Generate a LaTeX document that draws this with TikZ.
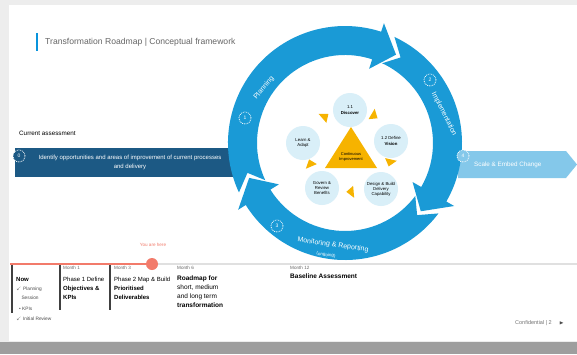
\documentclass[tikz,border=0pt]{standalone}
\usepackage{amssymb}
\usepackage{fontspec}
\setmainfont{Liberation Sans}
\usetikzlibrary{positioning}

\definecolor{cycleblue}{HTML}{1A9AD6}
\definecolor{darkbanner}{HTML}{1C5984}
\definecolor{lightbanner}{HTML}{84C8EA}
\definecolor{bubble}{HTML}{D9EFF8}
\definecolor{goldtri}{HTML}{F6B300}
\definecolor{salmon}{HTML}{F27B6B}
\definecolor{slidegrey}{HTML}{EDEDED}

% one blue band of the cycle: start angle, head angle (pixel angles, clockwise)
\newcommand{\cyclearrow}[2]{%
  \fill[cycleblue] (#1:117) arc[start angle=#1, end angle=#2-12, radius=117]
    -- (#2-12:126) -- (#2:102) -- (#2-12:78) -- (#2-12:88)
    arc[start angle=#2-12, end angle=#1, radius=88] -- (#1+8:102) -- cycle;}

\tikzset{
  tinytext/.style={font=\fontsize{4.6}{5.5}\selectfont, align=left, inner sep=0pt},
  smalltext/.style={font=\fontsize{6.3}{7.5}\selectfont, align=left, inner sep=0pt},
  stagetext/.style={font=\fontsize{6}{9}\selectfont, align=left, inner sep=0pt, anchor=north west},
  bubblenode/.style={circle, fill=bubble, minimum size=34pt, inner sep=0pt,
    align=center, font=\fontsize{4.3}{5.1}\selectfont},
  stepicon/.style={circle, draw=white, densely dotted, thick, minimum size=12pt,
    inner sep=0pt, text=white, font=\fontsize{5}{6}\selectfont},
  arclabel/.style={text=white, font=\fontsize{7}{8}\selectfont, inner sep=0pt},
  colline/.style={draw=black!75, line width=1.2pt},
}

\begin{document}
\begin{tikzpicture}[x=1pt, y=-1pt]
    \useasboundingbox (0,0) rectangle (577,354);

    % Slide frame
    \fill[slidegrey] (0,0) rectangle (577,354);
    \fill[white] (9,5) rectangle (577,341);
    \fill[black!38] (0,342) rectangle (577,354);

    % Title
    \draw[cyan!80!blue, line width=1.6pt] (37,33) -- (37,51);
    \node[smalltext, text=black!60, anchor=west, font=\fontsize{8.6}{10}\selectfont] (title) at (45,42)
        {Transformation Roadmap | Conceptual framework};

    % Left banner
    \node[smalltext, anchor=west] (assess) at (19,133) {Current assessment};
    \fill[darkbanner] (15,148) rectangle (236,177);
    \node[stepicon, fill=darkbanner] (icon0) at (19,156) {0};
    \node[tinytext, text=white, align=center, font=\fontsize{6}{9}\selectfont]
        (banner0) at (130,162)
        {Identify opportunities and areas of improvement of current processes\\and delivery};

    % Right banner
    \fill[lightbanner] (458,151) -- (566,151) -- (577,164.5) -- (566,178) -- (458,178) -- cycle;

    % Cycle
    \begin{scope}[shift={(345,143)}]
        \cyclearrow{155}{300}
        \cyclearrow{295}{402}
        \cyclearrow{397}{520}
    \end{scope}

    \node[stepicon, fill=lightbanner] (icon4) at (463,156) {4};
    \node[smalltext, text=white, anchor=west] (banner4) at (474,165) {Scale \& Embed Change};

    % Labels on the cycle
    \node[stepicon] (icon1) at (245,118) {1};
    \node[arclabel, rotate=50] (plan) at (264,88) {Planning};
    \node[stepicon] (icon2) at (430,80) {2};
    \node[arclabel, rotate=-63] (impl) at (444,114) {Implementation};
    \node[stepicon] (icon3) at (277,226) {3};
    \node[arclabel, rotate=-8] (monitor) at (333,245) {Monitoring \& Reporting};
    \node[arclabel, rotate=-8, font=\fontsize{4.5}{5}\selectfont] (monsub) at (326,255) {(ongoing)};

    % Inner bubbles
    \fill[goldtri] (351,127) -- (377,168) -- (325,168) -- cycle;
    \node[tinytext, align=center, font=\fontsize{4}{4.8}\selectfont] (core) at (351,157)
        {Continuous\\Improvement};
    \node[bubblenode] (discover) at (350,110) {1.1\\\textbf{Discover}};
    \node[bubblenode] (define) at (391,141) {1.2 Define\\\textbf{Vision}};
    \node[bubblenode] (design) at (381,189) {Design \& Build\\Delivery\\Capability};
    \node[bubblenode] (govern) at (322,188) {Govern \&\\Review\\Benefits};
    \node[bubblenode] (learn) at (303,143) {Learn \&\\Adapt};

    % small arrows between bubbles
    \begin{scope}[shift={(350,150)}]
        \foreach \ang in {306,18,90,162,234}
            \fill[goldtri] (\ang+5:42) -- (\ang-5:36) -- (\ang-5:48) -- cycle;
    \end{scope}

    % Timeline
    \draw[black!12, line width=2pt] (10,264) -- (577,264);
    \draw[salmon, line width=2.4pt] (10,264) -- (152,264);
    \fill[salmon] (152,264) circle[radius=6];
    \node[tinytext, text=salmon] (here) at (153,245) {You are here};

    \draw[colline] (12,265) -- (12,313);
    \draw[colline] (60,265) -- (60,310);
    \draw[colline] (110,265) -- (110,310);

    \node[stagetext] (now) at (16,277) {\textbf{Now}};
    \node[stagetext, text=black!70, font=\fontsize{4.8}{8.5}\selectfont] (nowa) at (16,287) {$\checkmark$ Planning\\\ \ \ \ Session};
    \node[stagetext, text=black!70, font=\fontsize{4.8}{6}\selectfont] (nowb) at (19,307) {\textbullet\ KPIs};
    \node[stagetext, text=black!70, font=\fontsize{4.8}{6}\selectfont] (nowc) at (16,317) {$\checkmark$ Initial Review};

    \node[tinytext, anchor=north west, text=black!60] (m1) at (63,266) {Month 1};
    \node[stagetext] (m1b) at (63,277)
        {Phase 1 Define\\\textbf{Objectives \&}\\\textbf{KPIs}};

    \node[tinytext, anchor=north west, text=black!60] (m3) at (114,266) {Month 3};
    \node[stagetext] (m3b) at (114,277)
        {Phase 2 Map \& Build\\\textbf{Prioritised}\\\textbf{Deliverables}};

    \node[tinytext, anchor=north west, text=black!60] (m6) at (177,266) {Month 6};
    \node[stagetext, font=\fontsize{6.5}{9}\selectfont] (m6b) at (177,276)
        {\textbf{Roadmap for}\\short, medium\\and long term\\\textbf{transformation}};

    \node[tinytext, anchor=north west, text=black!60] (m12) at (290,266) {Month 12};
    \node[stagetext, font=\fontsize{6.5}{8}\selectfont] (m12b) at (290,274)
        {\textbf{Baseline Assessment}};

    % Footer
    \node[tinytext, text=black!55, anchor=east, font=\fontsize{5.5}{6.5}\selectfont] (footer) at (552,323) {Confidential \textbar\ 2};
    \node[tinytext, text=black!70, right=7pt of footer] (next) {$\blacktriangleright$};
\end{tikzpicture}
\end{document}
